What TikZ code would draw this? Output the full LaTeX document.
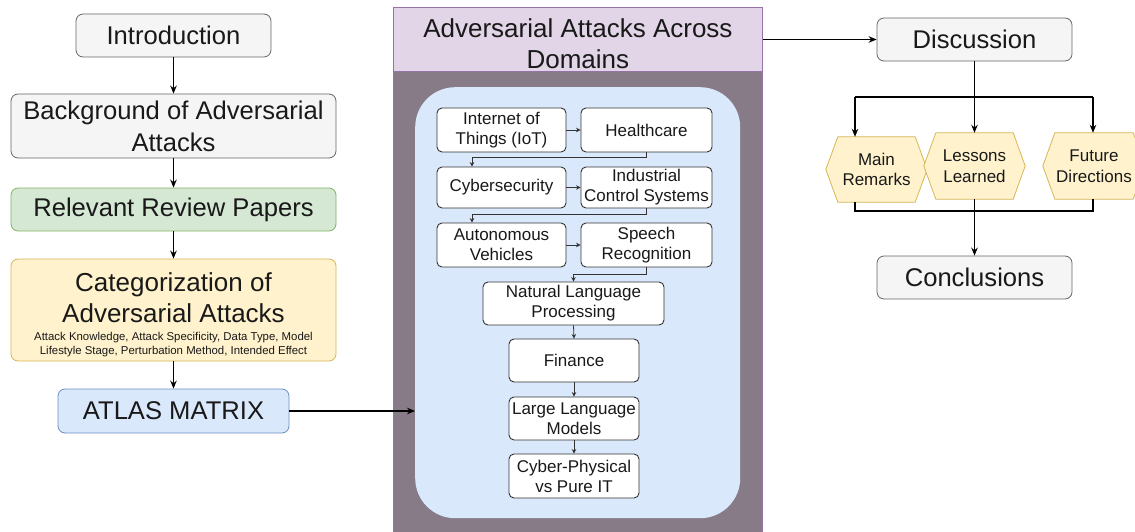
\documentclass[tikz,border=0pt]{standalone}
\usepackage{fontspec}
\setmainfont{Liberation Sans}
\usetikzlibrary{arrows.meta,backgrounds,calc}

\definecolor{grayfill}{HTML}{F5F5F5}
\definecolor{graydraw}{HTML}{666666}
\definecolor{greenfill}{HTML}{D5E8D4}
\definecolor{greendraw}{HTML}{82B366}
\definecolor{yellowfill}{HTML}{FFF2CC}
\definecolor{yellowdraw}{HTML}{D6B656}
\definecolor{bluefill}{HTML}{DAE8FC}
\definecolor{bluedraw}{HTML}{6C8EBF}
\definecolor{purplefill}{HTML}{E1D5E7}
\definecolor{purpledraw}{HTML}{9673A6}
\definecolor{panelfill}{HTML}{877B87}

\tikzset{
  conn/.style={line width=1.3pt, draw=black, -{Stealth[length=8pt,width=6.5pt]}},
  plain/.style={line width=1.3pt, draw=black},
  sconn/.style={line width=0.8pt, draw=black!80, -{Stealth[length=4.5pt,width=4.5pt]}},
  bigtxt/.style={font=\fontsize{25.6}{32}\selectfont, align=center, text=black!90, inner sep=0pt},
  sect/.style={bigtxt, rounded corners=7pt, line width=0.8pt},
  graybox/.style={sect, draw=graydraw, fill=grayfill},
  greenbox/.style={sect, draw=greendraw, fill=greenfill},
  yellowbox/.style={sect, draw=yellowdraw, fill=yellowfill},
  bluebox/.style={sect, draw=bluedraw, fill=bluefill},
  dombox/.style={draw=black!80, fill=white, rounded corners=5pt, line width=0.9pt,
    inner sep=0pt, font=\fontsize{17}{20}\selectfont, align=center, text=black!90},
  hexnode/.style={inner sep=0pt, font=\fontsize{17}{20.5}\selectfont, align=center, text=black!90},
  hexshape/.style={draw=yellowdraw, fill=yellowfill, line width=0.8pt, line join=round},
}

\begin{document}
\begin{tikzpicture}[x=1pt,y=-1pt]
\useasboundingbox (0,0) rectangle (1135,532);

% ---------------- left column ----------------
\node[graybox, minimum width=195pt, minimum height=43pt] (intro) at (173.5,35.5) {Introduction};
\node[graybox, minimum width=325pt, minimum height=64pt] (backg) at (173.5,126) {Background of Adversarial\\Attacks};
\node[greenbox, minimum width=325pt, minimum height=43pt] (review) at (173.5,209.5) {Relevant Review Papers};
\node[yellowbox, minimum width=325pt, minimum height=102pt] (categ) at (173.5,310)
  {\begin{minipage}{320pt}\centering
     \vspace*{10pt}
     {\fontsize{26}{31}\selectfont Categorization of\\Adversarial Attacks\par}\vspace{4pt}
     {\fontsize{11.4}{14}\selectfont Attack Knowledge, Attack Specificity, Data Type, Model\\
      Lifestyle Stage, Perturbation Method, Intended Effect\par}
   \end{minipage}};
\node[bluebox, minimum width=231pt, minimum height=44pt] (atlas) at (173.5,411) {ATLAS MATRIX};

\draw[conn] (intro.south) -- (backg.north);
\draw[conn] (backg.south) -- (review.north);
\draw[conn] (review.south) -- (categ.north);
\draw[conn] (categ.south) -- (atlas.north);

% ---------------- domains panel ----------------
\node[draw=purpledraw, fill=panelfill, line width=0.8pt, minimum width=369pt, minimum height=470pt,
      inner sep=0pt, anchor=north west] (panel) at (393,71) {};
\node[draw=purpledraw, fill=purplefill, line width=0.8pt, minimum width=369pt, minimum height=64pt,
      inner sep=0pt, anchor=north west, text=black!90] (hdr) at (393,7)
      {\fontsize{26}{31}\selectfont\raisebox{-13.5pt}[0pt][0pt]{%
        \begin{tabular}{@{}c@{}}Adversarial Attacks Across\\Domains\end{tabular}}};
\node[fill=bluefill, rounded corners=40pt, minimum width=325pt, minimum height=431pt,
      inner sep=0pt, anchor=north west] (domains) at (415,87) {};

\node[dombox, minimum width=129pt, minimum height=44pt] (iot) at (501.5,130) {Internet of\\Things (IoT)};
\node[dombox, minimum width=131pt, minimum height=44pt] (health) at (646.5,130) {Healthcare};
\node[dombox, minimum width=129pt, minimum height=41pt] (cyber) at (501.5,187.5) {Cybersecurity};
\node[dombox, minimum width=131pt, minimum height=41pt] (ics) at (646.5,187.5) {Industrial\\Control Systems};
\node[dombox, minimum width=129pt, minimum height=44pt] (auto) at (501.5,245) {Autonomous\\Vehicles};
\node[dombox, minimum width=131pt, minimum height=44pt] (speech) at (646.5,245) {Speech\\Recognition};
\node[dombox, minimum width=181pt, minimum height=43pt] (nlp) at (573.5,303.5) {Natural Language\\Processing};
\node[dombox, minimum width=130pt, minimum height=43pt] (fin) at (574,360.5) {Finance};
\node[dombox, minimum width=130pt, minimum height=43pt] (llm) at (574,418.5) {Large Language\\Models};
\node[dombox, minimum width=130pt, minimum height=44pt] (cps) at (574,476) {Cyber-Physical\\vs Pure IT};

\coordinate (turnA) at (472,157);
\coordinate (turnB) at (472,214);
\coordinate (turnC) at (573.5,274);

\draw[sconn] (iot.east) -- (health.west);
\draw[sconn] (health.south) |- (turnA) -- (turnA |- cyber.north);
\draw[sconn] (cyber.east) -- (ics.west);
\draw[sconn] (ics.south) |- (turnB) -- (turnB |- auto.north);
\draw[sconn] (auto.east) -- (speech.west);
\draw[sconn] (speech.south) |- (turnC) -- (nlp.north);
\draw[sconn] (nlp.south) -- (fin.north);
\draw[sconn] (fin.south) -- (llm.north);
\draw[sconn] (llm.south) -- (cps.north);

\draw[conn] (atlas.east) -- (domains.west |- atlas.east);

% ---------------- right column ----------------
\node[graybox, minimum width=195pt, minimum height=43pt] (disc) at (974.5,39.5) {Discussion};
\node[graybox, minimum width=195pt, minimum height=43pt] (concl) at (974.5,277.5) {Conclusions};

\node[hexnode, minimum width=101pt, minimum height=65pt] (mainr) at (876.5,169.5) {Main\\Remarks};
\node[hexnode, minimum width=101pt, minimum height=66pt] (lessons) at (974.5,166) {Lessons\\Learned};
\node[hexnode, minimum width=102pt, minimum height=66pt] (future) at (1094,166) {Future\\Directions};

\begin{scope}[on background layer]
  \clip (0,0) rectangle (1135,532);
  \foreach \h in {mainr,lessons,future}{
    \draw[hexshape] (\h.west) -- ([xshift=12pt]\h.north west) -- ([xshift=-12pt]\h.north east)
      -- (\h.east) -- ([xshift=-12pt]\h.south east) -- ([xshift=12pt]\h.south west) -- cycle;
  }
\end{scope}

\draw[conn] (hdr.east |- disc.west) -- (disc.west);

\coordinate (forkL) at (855,97);
\coordinate (forkR) at (1093,97);
\coordinate (joinL) at (855,211);
\coordinate (joinR) at (1093,211);

\draw[conn] (disc.south) -- (lessons.north);
\draw[plain] (forkL) -- (forkR);
\draw[conn] (forkL) -- (forkL |- mainr.north);
\draw[conn] (forkR) -- (forkR |- future.north);
\draw[plain] (joinL |- mainr.south) -- (joinL) -- (joinR) -- (joinR |- future.south);
\draw[conn] (lessons.south) -- (concl.north);

\end{tikzpicture}
\end{document}
